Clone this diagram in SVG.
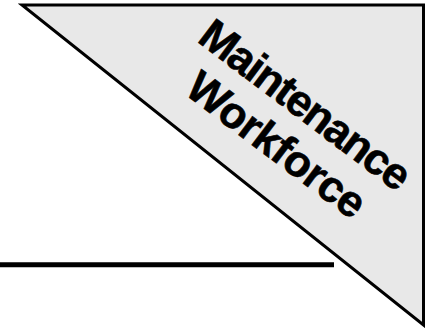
<svg xmlns="http://www.w3.org/2000/svg" width="433" height="328" viewBox="0 0 433 328">
<style>
.lbl{font-family:"Liberation Sans",Arial,sans-serif;font-weight:bold;font-size:44px;fill:#000;stroke:#000;stroke-width:0.6}
</style>
<rect width="433" height="328" fill="#fff"/>
<g id="triangle">
<polygon points="22,5 423.5,5 423.5,325" fill="#e8e8e8" stroke="#000" stroke-width="3" stroke-linejoin="miter"/>
<text class="lbl" transform="translate(196,41) rotate(37)" textLength="252" lengthAdjust="spacing">Maintenance</text>
<text class="lbl" transform="translate(183,93) rotate(37)" textLength="212" lengthAdjust="spacing">Workforce</text>
</g>
<g id="connectors">
<line x1="0" y1="264.8" x2="334" y2="264.8" stroke="#000" stroke-width="5"/>
</g>
</svg>
